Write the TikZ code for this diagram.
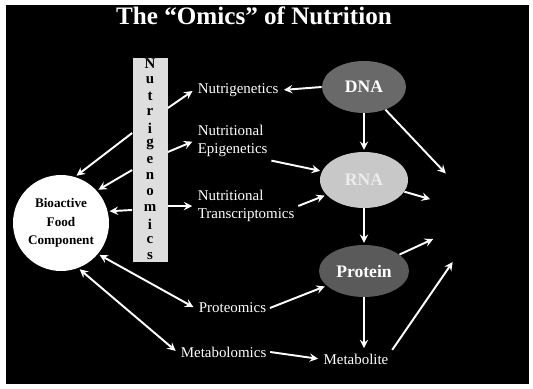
\documentclass[tikz,border=0pt]{standalone}
\usepackage{fontspec}
\setmainfont{Liberation Serif}
\usetikzlibrary{shapes, arrows, positioning, calc, shapes.geometric}
\definecolor{dnagray}{RGB}{105,105,105}
\definecolor{protgray}{RGB}{90,90,90}
\definecolor{rnagray}{RGB}{200,200,200}
\definecolor{bargray}{RGB}{222,222,222}

\begin{document}
\begin{tikzpicture}[x=0.02cm, y=-0.02cm, >=stealth,
    omic/.style={text=white, font=\fontsize{8.5}{10.2}\selectfont, align=left, anchor=west, inner sep=2pt},
    food/.style={circle, fill=white, minimum size=1.92cm, inner sep=0pt, align=center, font=\fontsize{7.5}{10.5}\selectfont\bfseries},
    bar/.style={rectangle, fill=bargray, minimum width=0.7cm, minimum height=4.08cm, inner sep=0pt},
    letter/.style={font=\fontsize{8.5}{8.5}\selectfont\bfseries, inner sep=0pt},
    molecule/.style={ellipse, inner sep=0pt, font=\fontsize{10}{12}\selectfont\bfseries, text=white},
    arrow/.style={line width=1.1pt, ->, >=stealth, color=white, shorten >=1pt},
    darrow/.style={line width=1.1pt, <->, >=stealth, color=white, shorten >=1pt, shorten <=1pt}]

    % Frame
    \fill[white] (0,0) rectangle (533,388);
    \fill[black] (6,5) rectangle (529,384);
    \useasboundingbox (0,0) rectangle (533,388);

    % Title
    \node[text=white, font=\fontsize{14.3}{16}\selectfont\bfseries] (title) at (254,16) {The “Omics” of Nutrition};

    % Bioactive food component
    \node[food] (food) at (61,223) {Bioactive\\Food\\Component};

    % Nutrigenomics bar
    \node[bar] (bar) at (150,160) {};
    \foreach \ch [count=\i from 0] in {N,u,t,r,i,g,e,n,o,m,i,c,s}
        \node[letter] (l\i) at (150,64+16*\i) {\ch};

    % Omics
    \node[omic] (nutrigen) at (194,90) {Nutrigenetics};
    \node[omic] (epi) at (194,141) {Nutritional\\Epigenetics};
    \node[omic] (transcr) at (194,206) {Nutritional\\Transcriptomics};
    \node[omic] (proteo) at (195,308) {Proteomics};
    \node[omic] (metabo) at (177,352) {Metabolomics};

    % Molecules
    \node[molecule, fill=dnagray, minimum width=1.68cm, minimum height=1.04cm] (dna) at (364,87) {DNA};
    \node[molecule, fill=rnagray, text=gray!15, minimum width=1.76cm, minimum height=1.12cm] (rna) at (364,180) {RNA};
    \node[molecule, fill=protgray, minimum width=1.8cm, minimum height=1.04cm] (protein) at (364,271) {Protein};
    \node[omic, anchor=center] (metab) at (356,359) {Metabolite};
    \node[circle, minimum size=2.2cm, inner sep=0pt] (outcome) at (485,215) {};

    % Connections
    \draw[arrow] ($(bar.west)+(0,-27)$) -- (food.73);
    \draw[arrow] ($(bar.west)+(0,10)$) -- (food.42);
    \draw[arrow] ($(bar.west)+(0,50)$) -- (food.14);
    \draw[arrow] ($(bar.east)+(0,-52)$) -- (nutrigen.west);
    \draw[arrow] ($(bar.east)+(0,-8)$) -- (epi.west);
    \draw[arrow] ($(bar.east)+(0,46)$) -- (transcr.west);
    \draw[darrow] (food.320) -- (proteo.west);
    \draw[darrow] (food.291) -- (metabo.west);
    \draw[arrow] (dna.west) -- (nutrigen.east);
    \draw[arrow] (dna) -- (rna);
    \draw[arrow] (epi.south east) -- (rna);
    \draw[arrow] (transcr.east) -- (rna);
    \draw[arrow] (rna) -- (protein);
    \draw[arrow] (proteo.east) -- (protein);
    \draw[arrow] (protein.south) -- (protein.south |- metab.north);
    \draw[arrow] (metabo.east) -- (metab.west);
    \draw[arrow] (dna) -- (outcome);
    \draw[arrow] (rna) -- (outcome);
    \draw[arrow] (protein) -- (outcome);
    \draw[arrow] (metab.north east) -- (outcome);
\end{tikzpicture}
\end{document}
